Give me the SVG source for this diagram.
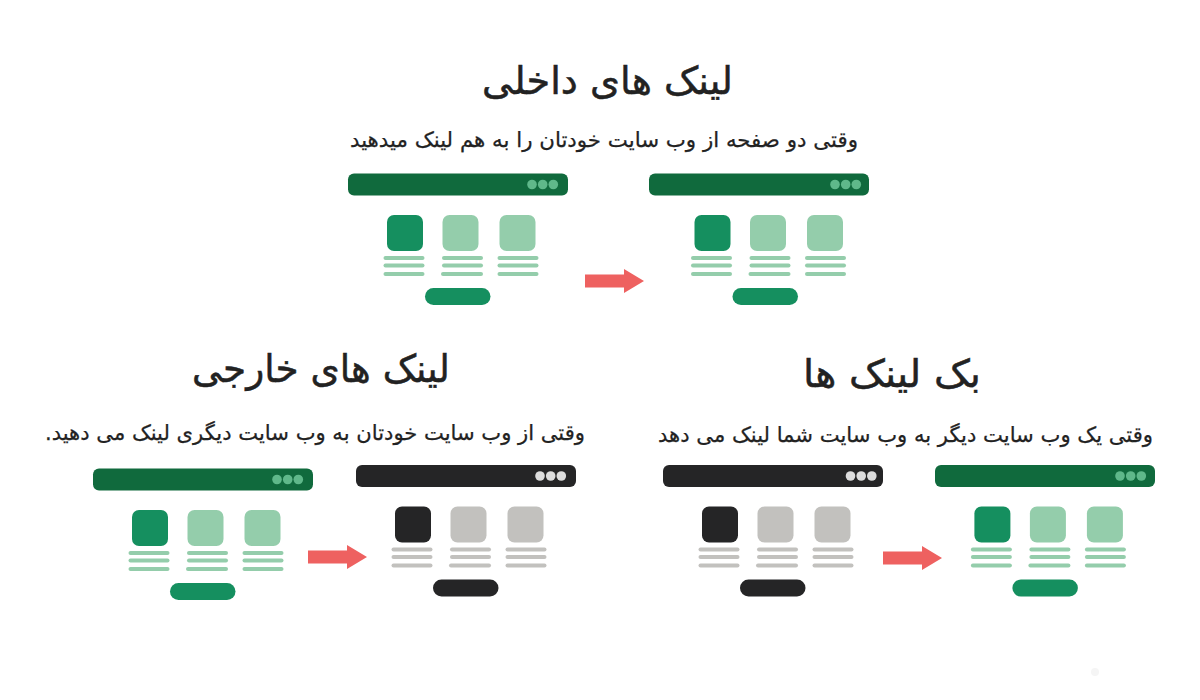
<svg xmlns="http://www.w3.org/2000/svg" width="1200" height="700" viewBox="0 0 1200 700">
<style>
text{font-family:"DejaVu Sans",sans-serif;fill:#222;stroke:#222;text-anchor:middle;direction:rtl}
.t{font-size:38.5px;stroke-width:.5px}
.s{font-size:21.2px;stroke-width:.25px}
.g{--bar:#106a3d;--dot:#5fb88a;--main:#158f5f;--lite:#94cdab}
.k{--bar:#252526;--dot:#dddddd;--main:#252526;--lite:#c2c1be}
.bar{fill:var(--bar)}.dot{fill:var(--dot)}.main{fill:var(--main)}.lite{fill:var(--lite)}
</style>
<defs>
<rect id="bar" class="bar" width="220" height="22" rx="6"/>
<g id="dots"><circle class="dot" cx="184" cy="11" r="4.8"/><circle class="dot" cx="194.7" cy="11" r="4.8"/><circle class="dot" cx="205.3" cy="11" r="4.8"/></g>
<g id="body">
<rect class="main" x="39" y="41.5" width="36" height="36" rx="7"/><rect class="lite" x="94.5" y="41.5" width="36" height="36" rx="7"/><rect class="lite" x="151.5" y="41.5" width="36" height="36" rx="7"/>
<rect class="lite" x="35.5" y="82.5" width="41" height="4" rx="2"/><rect class="lite" x="35.5" y="90" width="41" height="4" rx="2"/><rect class="lite" x="35.5" y="98.5" width="41" height="4" rx="2"/>
<rect class="lite" x="94" y="82.5" width="41" height="4" rx="2"/><rect class="lite" x="94" y="90" width="41" height="4" rx="2"/><rect class="lite" x="93" y="98.5" width="42" height="4" rx="2"/>
<rect class="lite" x="149.5" y="82.5" width="41" height="4" rx="2"/><rect class="lite" x="149.5" y="90" width="41" height="4" rx="2"/><rect class="lite" x="149.5" y="98.5" width="41" height="4" rx="2"/>
<rect class="main" x="77" y="114.5" width="65.5" height="17" rx="8.5"/>
</g>
<polygon id="arr" points="0,-6.5 39,-6.5 39,-12 59,0 39,12 39,6.5 0,6.5"/>
</defs>
<rect width="1200" height="700" fill="#ffffff"/>
<g id="titles">
<text class="t" x="607.5" y="94" textLength="251" lengthAdjust="spacingAndGlyphs">لینک های داخلی</text>
<text class="s" x="604" y="147" textLength="508" lengthAdjust="spacingAndGlyphs">وقتی دو صفحه از وب سایت خودتان را به هم لینک میدهید</text>
<text class="t" x="321" y="382" textLength="258" lengthAdjust="spacingAndGlyphs">لینک های خارجی</text>
<text class="s" x="315" y="440" textLength="540" lengthAdjust="spacingAndGlyphs">وقتی از وب سایت خودتان به وب سایت دیگری لینک می دهید.</text>
<text class="t" x="892" y="387" textLength="178" lengthAdjust="spacingAndGlyphs">بک لینک ها</text>
<text class="s" x="905.5" y="442" textLength="495" lengthAdjust="spacingAndGlyphs">وقتی یک وب سایت دیگر به وب سایت شما لینک می دهد</text>
</g>
<g id="page-a" class="g" transform="translate(348,173.5)"><use href="#bar"/><use href="#dots"/><use href="#body"/></g>
<g id="page-b" class="g" transform="translate(649,173.5)"><use href="#bar"/><use href="#dots" x="2"/><use href="#body" x="6.5"/></g>
<g id="page-c" class="g" transform="translate(93,468.5)"><use href="#bar"/><use href="#dots"/><use href="#body"/></g>
<g id="page-d" class="k" transform="translate(356,465)"><use href="#bar"/><use href="#dots"/><use href="#body"/></g>
<g id="page-e" class="k" transform="translate(663,465)"><use href="#bar"/><use href="#dots" x="3.5"/><use href="#body"/></g>
<g id="page-f" class="g" transform="translate(935,465)"><use href="#bar"/><use href="#dots" x="1"/><use href="#body" x="0.4"/></g>
<g id="connectors" fill="#ee6160">
<use href="#arr" x="585" y="281"/>
<use href="#arr" x="308" y="557"/>
<use href="#arr" x="883" y="558"/>
</g>
<circle cx="1095" cy="672" r="4" fill="#f5f5f5"/>
</svg>
